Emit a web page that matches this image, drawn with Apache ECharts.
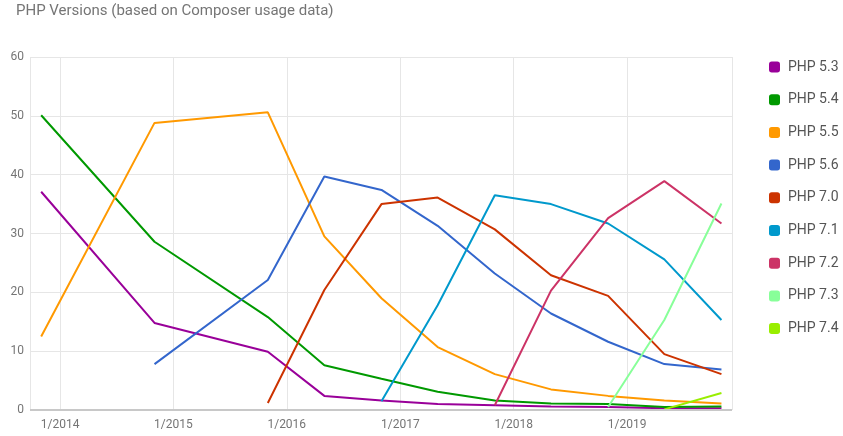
<!DOCTYPE html>
<html>
<head>
<meta charset="utf-8">
<script src="https://cdn.jsdelivr.net/npm/echarts@6/dist/echarts.min.js"></script>
<style>
  html, body { margin: 0; padding: 0; background: #fff; }
  #chart { width: 843px; height: 436px; }
</style>
</head>
<body>
<div id="chart"></div>
<script>
// survey dates (Composer stats posts)
const dates = ['2013-11-01', '2014-11-01', '2015-11-01', '2016-05-01', '2016-11-01', '2017-05-01',
  '2017-11-01', '2018-05-01', '2018-11-01', '2019-05-01', '2019-11-01']

// usage share in %, null = version not yet released
const php53 = [37.1, 14.8, 9.9, 2.4, 1.6, 1.0, 0.8, 0.6, 0.5, 0.3, 0.3]
const php54 = [50.1, 28.6, 15.8, 7.6, 5.3, 3.1, 1.6, 1.1, 1.0, 0.5, 0.6]
const php55 = [12.5, 48.8, 50.6, 29.5, 19.0, 10.7, 6.1, 3.5, 2.4, 1.6, 1.1]
const php56 = [null, 7.8, 22.1, 39.7, 37.4, 31.3, 23.2, 16.4, 11.6, 7.8, 6.9]
const php70 = [null, null, 1.2, 20.4, 35.0, 36.1, 30.7, 22.9, 19.4, 9.5, 6.1]
const php71 = [null, null, null, null, 1.5, 17.8, 36.5, 35.0, 31.7, 25.6, 15.3]
const php72 = [null, null, null, null, null, null, 0.8, 20.3, 32.6, 38.9, 31.7]
const php73 = [null, null, null, null, null, null, null, null, 0.5, 15.3, 35.1]
const php74 = [null, null, null, null, null, null, null, null, null, 0.1, 2.9]

const names = ['PHP 5.3', 'PHP 5.4', 'PHP 5.5', 'PHP 5.6', 'PHP 7.0', 'PHP 7.1', 'PHP 7.2', 'PHP 7.3', 'PHP 7.4']
const values = [php53, php54, php55, php56, php70, php71, php72, php73, php74]
const colors = ['#990099', '#009900', '#ff9900', '#3366cc', '#cc3300', '#0099cc', '#cc3366', '#88ff99', '#99ee00']

let myChart = echarts.init(document.getElementById('chart'))
myChart.setOption({
  color: colors,
  animation: false,
  title: {
    text: 'PHP Versions (based on Composer usage data)',
    left: 11,
    top: -1,
    textStyle: { fontFamily: 'Roboto', fontSize: 15, fontWeight: 'normal', color: '#757575' },
  },
  legend: {
    orient: 'vertical',
    left: 769,
    top: 60,
    padding: 0,
    itemGap: 18.7,
    itemWidth: 11,
    itemHeight: 11,
    icon: 'roundRect',
    data: names,
    textStyle: { fontFamily: 'Roboto', fontSize: 14, color: '#555', padding: [0, 0, 0, 3] },
  },
  grid: {
    left: 30,
    right: 111,
    top: 57,
    bottom: 26,
  },
  xAxis: {
    type: 'time',
    min: new Date('2013-09-26').getTime(),
    max: new Date('2019-12-05').getTime(),
    minInterval: 365 * 24 * 3600 * 1000,
    maxInterval: 366 * 24 * 3600 * 1000,
    axisLine: { show: false },
    axisTick: { show: false },
    splitLine: { show: true, lineStyle: { color: '#e6e6e6' } },
    axisLabel: {
      showMinLabel: false,
      showMaxLabel: false,
      fontFamily: 'Roboto',
      fontSize: 12,
      color: '#757575',
      margin: 9,
      formatter: function (v) {
        const d = new Date(v)
        return (d.getMonth() + 1) + '/' + d.getFullYear()
      },
    },
  },
  yAxis: {
    type: 'value',
    min: 0,
    max: 60,
    interval: 10,
    axisLine: { show: false },
    axisTick: { show: false },
    splitLine: { lineStyle: { color: '#e6e6e6' } },
    axisLabel: { fontFamily: 'Roboto', fontSize: 12, color: '#757575', margin: 6 },
  },
  series: names.map((name, i) => ({
    name: name,
    type: 'line',
    showSymbol: false,
    lineStyle: { width: 2 },
    data: dates.map((d, j) => [d, values[i][j]]),
    markLine: i === 0 ? {
      silent: true,
      symbol: 'none',
      label: { show: false },
      lineStyle: { color: '#c8c8c8', width: 2, type: 'solid' },
      data: [{ yAxis: 0 }],
    } : undefined,
    z: 2,
  })),
})
</script>
</body>
</html>
